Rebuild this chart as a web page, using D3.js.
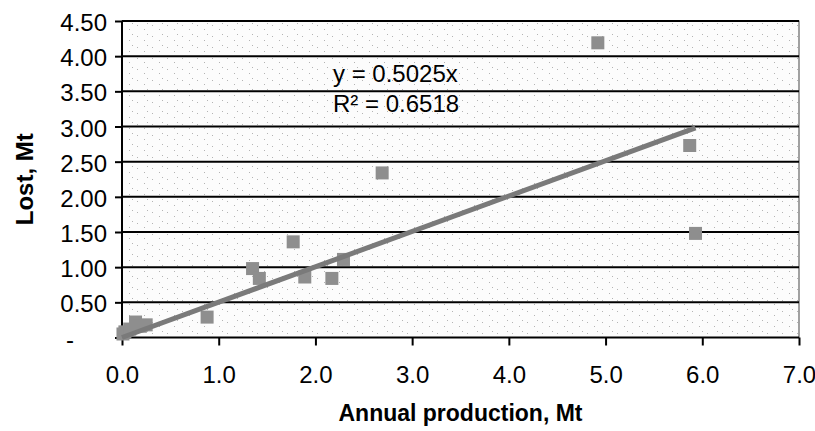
<!DOCTYPE html>
<head>
	<script src="https://d3js.org/d3.v7.min.js"></script>
	<style>
		body { margin: 0; background: #fff; }
		text { font-family: "Liberation Sans", Arial, sans-serif; fill: #000; }
	</style>
</head>
<body>
	<script type="text/javascript">

		var w = 815;
		var h = 431;

		// annual production (Mt) vs lost (Mt)
		var production = [0.01, 0.03, 0.08, 0.14, 0.19, 0.25, 0.88, 1.35, 1.42, 1.77, 1.89, 2.17, 2.29, 2.69, 4.92, 5.87, 5.93];
		var lost       = [0.05, 0.08, 0.12, 0.22, 0.16, 0.18, 0.29, 0.98, 0.84, 1.36, 0.86, 0.84, 1.11, 2.34, 4.19, 2.73, 1.48];
		var slope = 0.5025;
		var eqLabels = ["y = 0.5025x", "R² = 0.6518"];
		var xTicks = [0, 1, 2, 3, 4, 5, 6, 7];
		var yTicks = [0, 0.5, 1, 1.5, 2, 2.5, 3, 3.5, 4, 4.5];

		var svg = d3.select("body")
				.append("svg")
				.attr("width", w)
				.attr("height", h);

		var xScale = d3.scaleLinear()
					.domain([0, 7])
					.range([122, 799]);

		var yScale = d3.scaleLinear()
					.domain([0, 4.5])
					.range([337.5, 21]);

		// sparse dotted plot background
		var pat = svg.append("defs").append("pattern")
			.attr("id", "dots")
			.attr("patternUnits", "userSpaceOnUse")
			.attr("width", 15)
			.attr("height", 11);
		pat.append("rect").attr("width", 15).attr("height", 11).attr("fill", "#fcfcfc");
		[[2, 3], [9, 7], [12, 1]].forEach(function(p) {
			pat.append("rect").attr("x", p[0]).attr("y", p[1])
				.attr("width", 1).attr("height", 1).attr("fill", "#b4b4b4");
		});

		svg.append("rect")
			.attr("x", xScale(0))
			.attr("y", yScale(4.5))
			.attr("width", xScale(7) - xScale(0))
			.attr("height", yScale(0) - yScale(4.5))
			.attr("fill", "url(#dots)")
			.attr("stroke", "#444")
			.attr("stroke-width", 1);

		// gridlines
		svg.selectAll("line.grid")
			.data(yTicks.slice(1))
			.enter()
			.append("line")
			.attr("class", "grid")
			.attr("x1", xScale(0))
			.attr("x2", xScale(7))
			.attr("y1", function(d){ return yScale(d); })
			.attr("y2", function(d){ return yScale(d); })
			.attr("stroke", "#000")
			.attr("stroke-width", 2);

		// axes
		var yAxis = d3.axisLeft(yScale)
			.tickValues(yTicks)
			.tickSize(7)
			.tickPadding(8)
			.tickFormat(function(d){ return d === 0 ? "-" : d3.format(".2f")(d); });

		var gy = svg.append("g")
			.attr("transform", "translate(" + xScale(0) + ",0)")
			.call(yAxis);
		gy.select(".domain").attr("stroke-width", 2).attr("d", "M0," + yScale(0) + "V" + yScale(4.5));
		gy.selectAll(".tick line").attr("stroke-width", 2);
		gy.selectAll(".tick text")
			.style("font-size", "24px")
			.attr("dy", "0.4em")
			.attr("x", function(d){ return d === 0 ? -48 : -15; });

		var xAxis = d3.axisBottom(xScale)
			.tickValues(xTicks)
			.tickSize(8)
			.tickFormat(d3.format(".1f"));

		var gx = svg.append("g")
			.attr("transform", "translate(0," + yScale(0) + ")")
			.call(xAxis);
		gx.select(".domain").attr("stroke-width", 2).attr("d", "M" + xScale(0) + ",0H" + xScale(7));
		gx.selectAll(".tick line").attr("stroke-width", 2);
		gx.selectAll(".tick text")
			.style("font-size", "24px")
			.attr("y", 45)
			.attr("dy", 0);

		// markers
		svg.selectAll("rect.pt")
			.data(production)
			.enter()
			.append("rect")
			.attr("class", "pt")
			.attr("x", function(d){ return xScale(d) - 6.5; })
			.attr("y", function(d, i){ return yScale(lost[i]) - 6.5; })
			.attr("width", 13)
			.attr("height", 13)
			.attr("fill", "#8e8e8e");

		// linear trendline through origin
		var xMax = d3.max(production);
		svg.append("line")
			.attr("x1", xScale(0))
			.attr("y1", yScale(0))
			.attr("x2", xScale(xMax))
			.attr("y2", yScale(slope * xMax))
			.attr("stroke", "#7a7a7a")
			.attr("stroke-width", 5);

		// equation
		svg.selectAll("text.eq")
			.data(eqLabels)
			.enter()
			.append("text")
			.attr("class", "eq")
			.attr("x", 333)
			.attr("y", function(d, i){ return 82 + i * 30; })
			.style("font-size", "24px")
			.text(function(d){ return d; });

		// titles
		svg.append("text")
			.attr("x", (xScale(0) + xScale(7)) / 2)
			.attr("y", 421)
			.attr("text-anchor", "middle")
			.style("font-size", "23px")
			.style("font-weight", "bold")
			.text("Annual production, Mt");

		svg.append("text")
			.attr("transform", "translate(33," + (yScale(0) + yScale(4.5)) / 2 + ") rotate(-90)")
			.attr("text-anchor", "middle")
			.style("font-size", "24px")
			.style("font-weight", "bold")
			.text("Lost, Mt");

	</script>
</body>
